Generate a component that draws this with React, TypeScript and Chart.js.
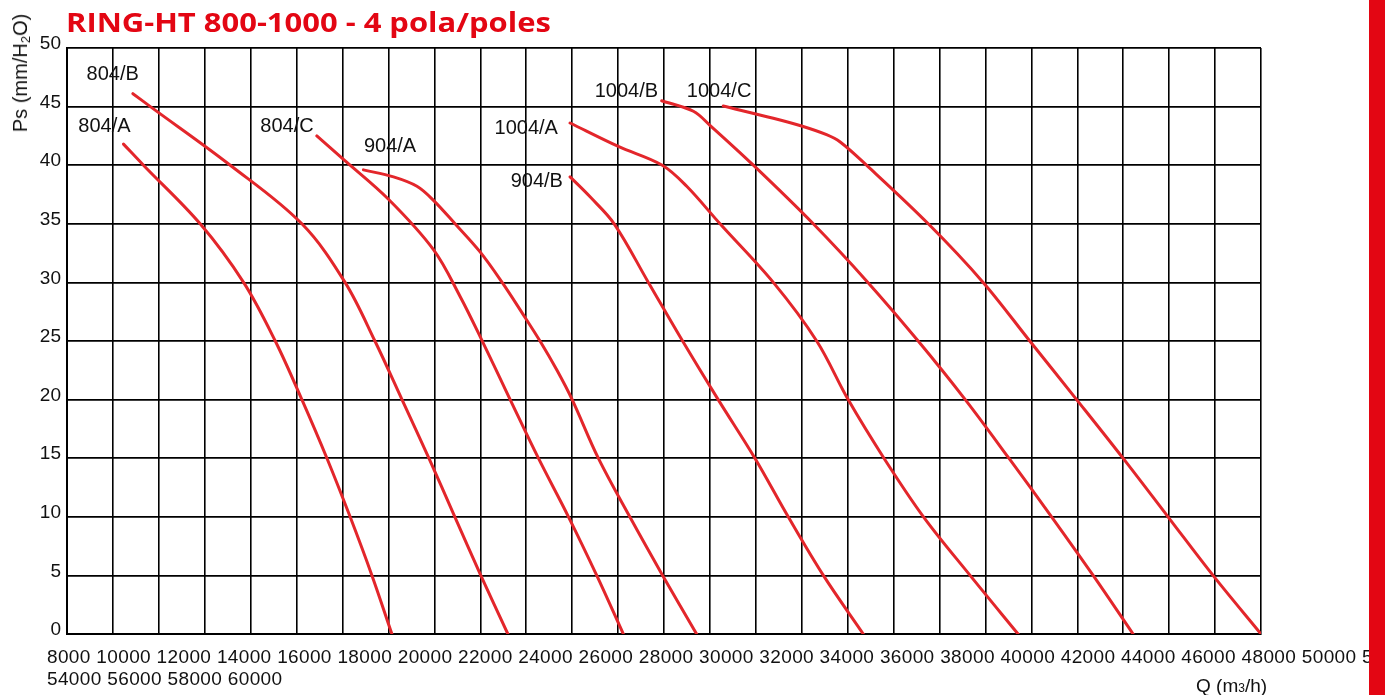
import React, { useEffect, useRef } from 'react';
import { Chart, registerables } from 'chart.js';

Chart.register(...registerables);

// ---------- data ----------
const TITLE = 'RING-HT 800-1000 - 4 pola/poles';
const X_MIN = 8000;
const X_MAX = 60000;
const X_STEP = 2000;
const X_TICK_LABELS = [
  '8000', '10000', '12000', '14000', '16000', '18000', '20000', '22000', '24000',
  '26000', '28000', '30000', '32000', '34000', '36000', '38000', '40000', '42000',
  '44000', '46000', '48000', '50000', '52000', '54000', '56000', '58000', '60000',
];
const Y_MIN = 0;
const Y_MAX = 50;
const Y_STEP = 5;

// [Q (m3/h), Ps (mm H2O)]
const S_804A: [number, number][] = [
  [10460, 41.8], [11330, 40], [13800, 35], [15690, 30], [17070, 25],
  [18230, 20], [19320, 15], [20330, 10], [21280, 5], [22150, 0],
];
const S_804B: [number, number][] = [
  [10870, 46.1], [11630, 45], [15110, 40], [18230, 35], [20110, 30],
  [21410, 25], [22590, 20], [23760, 15], [24890, 10], [26020, 5], [27200, 0],
];
const S_804C: [number, number][] = [
  [18880, 42.5], [20040, 40.5], [22000, 37.1], [23960, 32.8], [25120, 28.8],
  [26060, 25.1], [27300, 20], [28530, 15], [29840, 10], [31070, 5], [32230, 0],
];
const S_904A: [number, number][] = [
  [20910, 39.6], [22220, 39.0], [23240, 38.2], [23960, 37.0], [24900, 35],
  [25990, 32.6], [26950, 30], [27820, 27.4], [28600, 25], [29340, 22.5], [30000, 20],
  [31140, 15], [32510, 10], [33940, 5], [35420, 0],
];
const S_904B: [number, number][] = [
  [29910, 39], [30780, 37.3], [31830, 35], [33320, 30], [34810, 25],
  [36360, 20], [37960, 15], [39410, 10], [40940, 5], [42680, 0],
];
const S_1004A: [number, number][] = [
  [29910, 43.6], [32010, 41.6], [33925, 40], [34990, 38.2], [36440, 35],
  [38760, 30], [40650, 25], [42020, 20], [43580, 15], [45300, 10], [47330, 5], [49420, 0],
];
const S_1004B: [number, number][] = [
  [33900, 45.5], [35280, 44.6], [36000, 43.4], [37890, 40], [40500, 35],
  [42880, 30], [45070, 25], [47120, 20], [49020, 15], [50880, 10], [52690, 5], [54430, 0],
];
const S_1004C: [number, number][] = [
  [36580, 45.05], [38760, 44.0], [40060, 43.3], [41080, 42.6], [41660, 42.0],
  [42820, 40], [45510, 35], [47900, 30], [49930, 25], [51970, 20],
  [53990, 15], [55950, 10], [57910, 5], [60000, 0],
];

const SERIES_NAMES = ['804/A', '804/B', '804/C', '904/A', '904/B', '1004/A', '1004/B', '1004/C'];
const SERIES = [S_804A, S_804B, S_804C, S_904A, S_904B, S_1004A, S_1004B, S_1004C];

// curve name label anchors, in data units (Q, Ps)
const LABEL_Q = [9630, 9990, 17580, 22070, 28460, 28000, 32360, 36400];
const LABEL_PS = [43.3, 47.7, 43.3, 41.6, 38.6, 43.1, 46.3, 46.3];

const RED = '#e3262b';
const BRAND_RED = '#e30613';
const FONT = '"Liberation Sans", Arial, Helvetica, sans-serif';

const curveLabelPlugin = {
  id: 'curveLabels',
  afterDatasetsDraw(chart: any) {
    const { ctx, scales } = chart;
    const xs = scales.x;
    const ys = scales.y;
    ctx.save();
    ctx.font = `20px ${FONT}`;
    ctx.fillStyle = '#111';
    ctx.textAlign = 'center';
    ctx.textBaseline = 'middle';
    SERIES_NAMES.forEach((name, i) => {
      ctx.fillText(name, xs.getPixelForValue(LABEL_Q[i]), ys.getPixelForValue(LABEL_PS[i]));
    });
    ctx.restore();
  },
};

export default function App() {
  const canvasRef = useRef<HTMLCanvasElement | null>(null);

  useEffect(() => {
    if (!canvasRef.current) return;
    const chart = new Chart(canvasRef.current, {
      type: 'line',
      data: {
        datasets: SERIES.map((s, i) => ({
          label: SERIES_NAMES[i],
          data: s.map(([q, p]) => ({ x: q, y: p })),
          borderColor: RED,
          borderWidth: 3,
          pointRadius: 0,
          fill: false,
          tension: 0.35,
          borderCapStyle: 'round' as const,
          borderJoinStyle: 'round' as const,
        })),
      },
      options: {
        animation: false,
        responsive: false,
        maintainAspectRatio: false,
        layout: { padding: { left: 0, top: 48, right: 124, bottom: 0 } },
        plugins: { legend: { display: false }, tooltip: { enabled: false }, title: { display: false } },
        scales: {
          x: {
            type: 'linear',
            min: X_MIN,
            max: X_MAX,
            ticks: { stepSize: X_STEP, display: false },
            grid: { color: '#000', lineWidth: 1.6, drawTicks: false },
            border: { display: true, color: '#000', width: 2 },
            afterFit: (s: any) => { s.height = 61; },
          },
          y: {
            type: 'linear',
            min: Y_MIN,
            max: Y_MAX,
            ticks: {
              stepSize: Y_STEP,
              color: '#111',
              font: { family: FONT, size: 19 },
              padding: 6,
              labelOffset: -4,
            },
            grid: { color: '#000', lineWidth: 1.8, drawTicks: false },
            border: { display: true, color: '#000', width: 2 },
            afterFit: (s: any) => { s.width = 67; },
          },
        },
      },
      plugins: [curveLabelPlugin],
    });
    return () => chart.destroy();
  }, []);

  return (
    <div style={{ position: 'absolute', left: 0, top: 0, width: 1385, height: 695, overflow: 'hidden', background: '#fff' }}>
      <canvas ref={canvasRef} width={1385} height={695} style={{ position: 'absolute', left: 0, top: 0 }} />
      <div style={{
        position: 'absolute', left: 66, top: 4, fontFamily: '"Open Sans", sans-serif', fontWeight: 700,
        fontSize: 26, lineHeight: '36px', color: BRAND_RED, whiteSpace: 'nowrap',
        transform: 'scaleX(1.19)', transformOrigin: 'left center',
      }}>{TITLE}</div>
      <div style={{
        position: 'absolute', left: 20, top: 73, transform: 'translate(-50%, -50%) rotate(-90deg)',
        fontFamily: FONT, fontSize: 20, color: '#111', whiteSpace: 'nowrap', lineHeight: '22px',
      }}>Ps (mm/H<sub style={{ fontSize: 13, verticalAlign: -3, lineHeight: 0 }}>2</sub>O)</div>
      <div style={{
        position: 'absolute', left: 47, top: 646, width: 1390, fontFamily: FONT, fontSize: 19,
        letterSpacing: 0.36, lineHeight: '22px', color: '#111',
      }}>{X_TICK_LABELS.join(' ')}</div>
      <div style={{
        position: 'absolute', left: 1196, top: 675, fontFamily: FONT, fontSize: 19, color: '#111',
        whiteSpace: 'nowrap', lineHeight: '22px',
      }}>Q (m<span style={{ fontSize: 12 }}>3</span>/h)</div>
      <div style={{ position: 'absolute', left: 1369, top: 0, width: 16, height: 695, background: BRAND_RED }} />
    </div>
  );
}
